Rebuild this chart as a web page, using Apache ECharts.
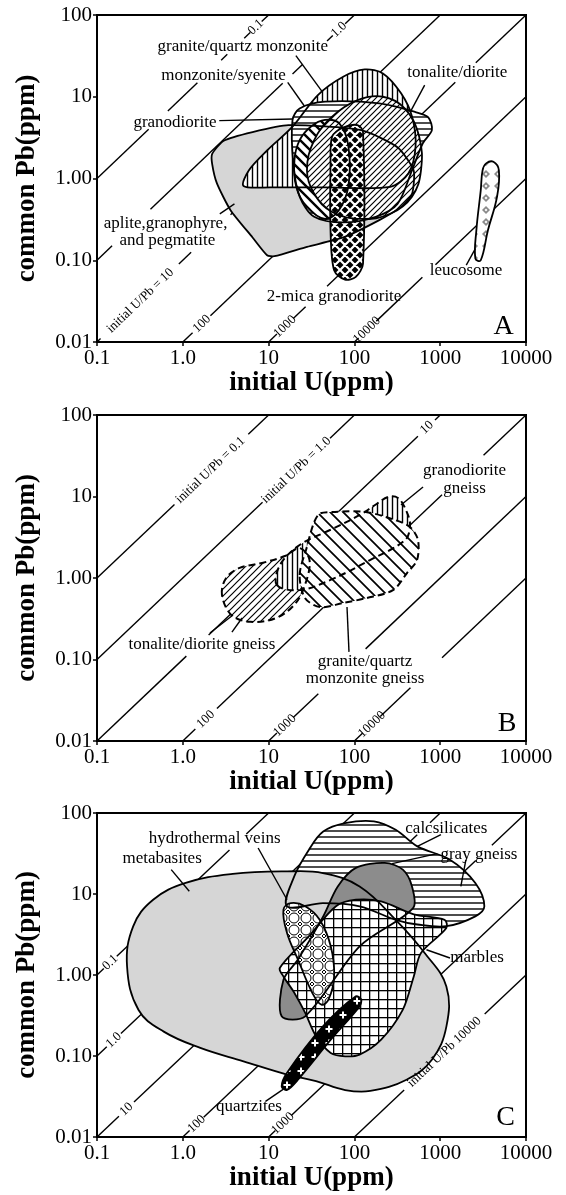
<!DOCTYPE html>
<html><head><meta charset="utf-8">
<script src="https://cdn.jsdelivr.net/npm/echarts@6/dist/echarts.min.js"></script>
<style>html,body{margin:0;padding:0;background:#fff}#c{width:566px;height:1195px}</style>
</head><body><div id="c"></div>
<script>
// ---------- tick labels ----------
const xTickLabels = ['0.1','1.0','10','100','1000','10000'];
const yTickLabels = ['0.01','0.10','1.00','10','100'];

// ---------- Panel A regions [initial U, common Pb] ----------
const aAplite = [[2.2,2.0],[3.0,2.9],[6.5,3.7],[17,4.5],[120,3.9],[320,2.4],[490,1.26],[470,0.65],[350,0.45],[195,0.31],[74,0.19],[28,0.146],[11.7,0.112],[9.6,0.115],[6.5,0.19],[3.6,0.41],[2.5,0.87],[2.2,1.5]];
const aGranite = [[5.1,0.81],[5.9,1.26],[9.6,2.2],[19,4.3],[37.5,10.5],[74,17.6],[132,21.6],[215,19.3],[350,11],[470,5.7],[516,2.44],[425,1.15],[262,0.79],[45,0.78],[10.6,0.78]];
const aMonzonite = [[20,1.68],[23,2.94],[31,4.3],[45.5,5.2],[67,4.7],[85,2.5],[85,0.8],[65,0.4],[45.5,0.32],[28,0.45],[21,0.79]];
const aGranodiorite = [[19,5.2],[23,7.2],[45.5,8.7],[195,8.3],[516,6.5],[726,5.6],[800,3.9],[627,2.7],[469,1.26],[318,0.49],[177,0.34],[74,0.29],[34,0.34],[23,0.6],[19.4,1.53]];
const aTonalite = [[28,1.26],[34,2.94],[55,5.7],[109,9.1],[215,10],[386,7.2],[569,3.24],[597,1.26],[469,0.6],[262,0.37],[120,0.32],[55,0.39],[34,0.65]];
const aTwoMica = [[55,3.24],[74,4.2],[109,4.5],[126,3.7],[126,0.091],[104,0.0625],[77.6,0.058],[58,0.0755],[52.7,0.233],[52.7,1.53]];
const aLeucosome = [[3435,1.53],[4170,1.6],[4830,1.26],[4600,0.60],[3600,0.233],[2970,0.1],[2570,0.105],[2640,0.233],[2970,0.72],[3120,1.26]];

// ---------- Panel B regions ----------
const bTonalite = [[2.86,0.62],[3.2,1.0],[4.6,1.33],[8.4,1.53],[15.5,1.86],[23,2.33],[30,1.66],[26.5,0.82],[20,0.47],[12,0.32],[6.1,0.29],[3.7,0.35]];
const bGranodiorite = [[12.5,0.82],[13.6,1.45],[23,2.54],[52,3.88],[116,5.93],[174,7.87],[246,9.86],[322,9.6],[399,6.82],[445,4.47],[389,2.92],[152,1.66],[52,0.94],[23,0.71]];
const bGranite = [[23,1.09],[27.3,2.21],[37.7,5.93],[59.4,6.46],[136,6.46],[297,5.15],[445,4.23],[551,2.92],[537,1.66],[410,1.15],[282,0.71],[140,0.569],[73.6,0.493],[39.8,0.44],[26.5,0.569]];

// ---------- Panel C regions ----------
const cCalcsilicates = [[16.4,7.05],[19.9,16.5],[29.4,35],[43.3,59],[77.6,75],[169,79],[303,62],[542,38.7],[1300,26.5],[2565,13.7],[3270,7.05],[2565,5.3],[1180,4.0],[542,4.2],[303,4.8],[115,7.05],[43,7.7]];
const cMetabasites = [[0.224,1.28],[0.264,3.99],[0.451,8.5],[1.08,13.7],[3.82,17.7],[16.4,19],[43,18.1],[115,12.4],[303,4.8],[659,1.87],[1180,0.72],[1180,0.23],[800,0.09],[405,0.051],[153,0.037],[78,0.038],[35.7,0.049],[16.4,0.059],[5.1,0.086],[1.6,0.126],[0.6,0.2],[0.305,0.37]];
const cGrayGneiss = [[14.2,0.309],[14.9,0.875],[22,1.55],[43.3,5.3],[64,12.4],[104,21],[226,24.2],[367,20],[469,12.4],[483,6.7],[115,2.26],[26.7,0.309]];
const cMarbles = [[13.5,1.22],[29.4,3.0],[61,7.05],[104,8.5],[205,8.1],[492,5.6],[1125,4.8],[1180,3.8],[597,1.87],[492,0.96],[367,0.373],[205,0.159],[115,0.104],[78,0.099],[53,0.109],[35.7,0.175],[26.7,0.34],[20,0.60],[14.9,0.96]];
const cHydro = [[14.9,6.4],[18.1,7.7],[26.7,7.05],[39.4,4.8],[53,2.26],[58,0.96],[50,0.5],[41.3,0.43],[32.4,0.6],[22,1.55],[16.4,3.3]];
const cQuartzites = [[14.2,0.042],[16.4,0.062],[43,0.232],[104,0.546],[120,0.5],[115,0.41],[53,0.159],[22,0.051],[16.4,0.038]];

// ---------- initial U/Pb isolines (visible pieces) ----------
const isoA = [
 [[0.1,1],[0.4,4]],[[0.67,6.7],[1.48,14.8]],[[2.8,28],[3.3,33]],[[5.2,52],[6.1,61]],[[8.3,83],[10,100]],
 [[0.1,0.1],[0.15,0.15]],[[0.42,0.42],[14.6,14.6]],[[19,19],[25,25]],[[48,48],[56,56]],[[78,78],[100,100]],
 [[0.1,0.01],[0.11,0.011]],[[0.9,0.09],[1.25,0.125]],[[3.6,0.36],[1000,100]],
 [[1,0.01],[1.3,0.013]],[[2.1,0.021],[1500,15]],[[2600,26],[10000,100]],
 [[10,0.01],[12.5,0.0125]],[[19.5,0.0195],[27,0.027]],[[48,0.048],[10000,10]],
 [[100,0.01],[112,0.0112]],[[180,0.018],[620,0.062]],[[880,0.088],[10000,1]]
];
const isoB = [
 [[0.1,1],[0.8,8]],[[5.8,58],[10,100]],
 [[0.1,0.1],[8.5,8.5]],[[52,52],[100,100]],
 [[0.1,0.01],[1.1,0.11]],[[2.0,0.2],[550,55]],[[870,87],[1000,100]],
 [[1,0.01],[1.4,0.014]],[[2.5,0.025],[1050,10.5]],[[3200,32],[10000,100]],
 [[10,0.01],[12.5,0.0125]],[[19.5,0.0195],[38,0.038]],[[135,0.135],[10000,10]],
 [[100,0.01],[125,0.0125]],[[200,0.02],[450,0.045]],[[1050,0.105],[10000,1]]
];
const isoC = [
 [[0.1,1],[0.12,1.2]],[[0.17,1.7],[3.5,35]],[[5.5,55],[10,100]],
 [[0.1,0.1],[0.13,0.13]],[[0.19,0.19],[100,100]],
 [[0.1,0.01],[0.18,0.018]],[[0.27,0.027],[540,54]],[[760,76],[1000,100]],
 [[1,0.01],[1.2,0.012]],[[1.75,0.0175],[2600,26]],[[4000,40],[10000,100]],
 [[10,0.01],[12,0.012]],[[18.5,0.0185],[10000,10]],
 [[100,0.01],[380,0.038]],[[3300,0.33],[10000,1]]
];

// ---------- leader lines ----------
const leadA = [
 [[20.8,31.8],[42.7,11.3]],[[16.7,15.0],[26,7.76]],[[2.66,5.1],[19.1,5.35]],
 [[659,13.9],[447,6.5]],[[2.7,0.37],[4.0,0.49]],[[2013,0.087],[2570,0.139]]
];
const leadB = [
 [[631,13.1],[349,7.87]],[[2.07,0.211],[3.85,0.352]],[[3.74,0.217],[4.9,0.323]],[[82,0.44],[86.5,0.124]]
];
const leadC = [
 [[7.55,37],[16.4,8.5]],[[0.733,20],[1.19,10.8]],[[1020,54],[542,38.7]],
 [[925,31.5],[275,23.7]],[[1995,26.5],[1740,12.4]],[[1300,1.62],[692,2.05]],[[9.2,0.0275],[14.9,0.039]]
];

// ---------- text labels ----------
const textA = [
 {t:'granite/quartz monzonite', at:[5.0,41]},
 {t:'monzonite/syenite', at:[2.98,18.1]},
 {t:'granodiorite', at:[0.81,4.9]},
 {t:'tonalite/diorite', at:[1580,20]},
 {t:'aplite,granophyre,', at:[0.63,0.28]},
 {t:'and pegmatite', at:[0.66,0.172]},
 {t:'leucosome', at:[2000,0.074]},
 {t:'2-mica granodiorite', at:[58,0.036]}
];
const isoTextA = [
 {t:'initial U/Pb = 10', at:[0.32,0.032]},{t:'100', at:[1.67,0.0167]},{t:'1000', at:[15.5,0.0155]},
 {t:'10000', at:[140,0.014]},{t:'0.1', at:[7.1,71]},{t:'1.0', at:[66,66]}
];
const textB = [
 {t:'granodiorite', at:[1920,21.1]},{t:'gneiss', at:[1920,12.7]},
 {t:'tonalite/diorite gneiss', at:[1.67,0.151]},
 {t:'granite/quartz', at:[133,0.0933]},{t:'monzonite gneiss', at:[133,0.0577]}
];
const isoTextB = [
 {t:'initial U/Pb = 0.1', at:[2.1,21]},{t:'initial U/Pb = 1.0', at:[21,21]},{t:'10', at:[700,70]},
 {t:'100', at:[1.85,0.0185]},{t:'1000', at:[15.5,0.0155]},{t:'10000', at:[160,0.016]}
];
const textC = [
 {t:'hydrothermal veins', at:[2.35,49]},{t:'metabasites', at:[0.574,27.8]},
 {t:'calcsilicates', at:[1180,65]},{t:'gray gneiss', at:[2825,30.6]},
 {t:'marbles', at:[2690,1.62]},{t:'quartzites', at:[5.9,0.0239]}
];
const isoTextC = [
 {t:'0.1', at:[0.143,1.43]},{t:'1.0', at:[0.157,0.157]},{t:'10', at:[0.22,0.022]},
 {t:'100', at:[1.45,0.0145]},{t:'1000', at:[14.7,0.0147]},{t:'initial U/Pb 10000', at:[1120,0.112]}
];
const panelLetters = [{t:'A', at:[5500,0.0155]},{t:'B', at:[6000,0.0165]},{t:'C', at:[5800,0.0172]}];

// ---------- fills (patterns) ----------
function pat(w,h,draw){const c=document.createElement('canvas');c.width=w;c.height=h;const g=c.getContext('2d');draw(g,w,h);return {image:c,repeat:'repeat'};}
function diag(n,lw,dir,bg,fg){return pat(n,n,(g)=>{g.fillStyle=bg;g.fillRect(0,0,n,n);g.strokeStyle=fg;g.lineWidth=lw;g.beginPath();
 if(dir>0){g.moveTo(-1,n+1);g.lineTo(n+1,-1);g.moveTo(-1,1);g.lineTo(1,-1);g.moveTo(n-1,n+1);g.lineTo(n+1,n-1);}
 else{g.moveTo(-1,-1);g.lineTo(n+1,n+1);g.moveTo(n-1,-1);g.lineTo(n+1,1);g.moveTo(-1,n-1);g.lineTo(1,n+1);}
 g.stroke();});}
const FILLS = {
 gray:'#d6d6d6',
 dark:'#8c8c8c',
 vert:pat(5,5,(g)=>{g.fillStyle='#fff';g.fillRect(0,0,5,5);g.strokeStyle='#000';g.lineWidth=1.4;g.beginPath();g.moveTo(2.5,0);g.lineTo(2.5,5);g.stroke();}),
 horiz:pat(6,6,(g)=>{g.fillStyle='#fff';g.fillRect(0,0,6,6);g.strokeStyle='#000';g.lineWidth=1.4;g.beginPath();g.moveTo(0,3);g.lineTo(6,3);g.stroke();}),
 diagR:diag(6,1.2,1,'#fff','#000'),
 diagLwide:diag(10,2.4,-1,'#fff','#000'),
 diagRb:diag(7,1.2,1,'#fff','#000'),
 diagLb:diag(13,1.7,-1,'#fff','#000'),
 grid:pat(9,9,(g)=>{g.fillStyle='#fff';g.fillRect(0,0,9,9);g.fillStyle='#000';g.fillRect(0,0,1.3,9);g.fillRect(0,0,9,1.3);}),
 mica:pat(10,10,(g)=>{g.fillStyle='#000';g.fillRect(0,0,10,10);g.strokeStyle='#fff';g.lineWidth=2.2;g.beginPath();
   g.moveTo(-1,11);g.lineTo(11,-1);g.moveTo(-1,1);g.lineTo(1,-1);g.moveTo(9,11);g.lineTo(11,9);
   g.moveTo(-1,-1);g.lineTo(11,11);g.moveTo(9,-1);g.lineTo(11,1);g.moveTo(-1,9);g.lineTo(1,11);g.stroke();}),
 leuco:pat(12,12,(g)=>{g.fillStyle='#fff';g.fillRect(0,0,12,12);g.fillStyle='#8a8a8a';g.beginPath();g.moveTo(6,2);g.lineTo(10,6);g.lineTo(6,10);g.lineTo(2,6);g.closePath();g.fill();
   g.fillStyle='#fff';g.beginPath();g.moveTo(6,4.5);g.lineTo(7.5,6);g.lineTo(6,7.5);g.lineTo(4.5,6);g.closePath();g.fill();}),
 hydro:pat(12,12,(g)=>{g.fillStyle='#fff';g.fillRect(0,0,12,12);g.strokeStyle='#000';g.lineWidth=1;g.beginPath();g.arc(6,6,5,0,Math.PI*2);g.stroke();
   g.beginPath();[[0,0],[12,0],[0,12],[12,12]].forEach(p=>{g.moveTo(p[0],p[1]-2);g.lineTo(p[0]+2,p[1]);g.lineTo(p[0],p[1]+2);g.lineTo(p[0]-2,p[1]);g.closePath();});g.stroke();}),
 quartz:pat(14,14,(g)=>{g.fillStyle='#000';g.fillRect(0,0,14,14);g.strokeStyle='#fff';g.lineWidth=2;g.beginPath();g.moveTo(7,3.5);g.lineTo(7,10.5);g.moveTo(3.5,7);g.lineTo(10.5,7);g.stroke();})
};

const shapesA = [
 {pts:aAplite, fill:'gray', smooth:0.2},
 {pts:aGranite, fill:'vert', smooth:0.3},
 {pts:aGranodiorite, fill:'horiz', smooth:0.3},
 {pts:aMonzonite, fill:'diagLwide', smooth:0.35},
 {pts:aTonalite, fill:'diagR', smooth:0.4},
 {pts:aTwoMica, fill:'mica', smooth:0.3},
 {pts:aLeucosome, fill:'leuco', smooth:0.4}
];
const shapesB = [
 {pts:bTonalite, fill:'diagRb', smooth:0.35, dash:true},
 {pts:bGranodiorite, fill:'vert', smooth:0.35, dash:true},
 {pts:bGranite, fill:'diagLb', smooth:0.3, dash:true}
];
const shapesC = [
 {pts:cCalcsilicates, fill:'horiz', smooth:0.35},
 {pts:cMetabasites, fill:'gray', smooth:0.4},
 {pts:cGrayGneiss, fill:'dark', smooth:0.3},
 {pts:cMarbles, fill:'grid', smooth:0.3},
 {pts:cHydro, fill:'hydro', smooth:0.4},
 {pts:cQuartzites, fill:'quartz', smooth:0.3}
];

const FONT = '"Liberation Serif", "DejaVu Serif", serif';

function segSeries(gi, segs, z, lw){
 return {type:'custom', xAxisIndex:gi, yAxisIndex:gi, z:z, silent:true, animation:false,
  data: segs.map(s=>[s[0][0],s[0][1],s[1][0],s[1][1]]),
  renderItem:(params,api)=>{const a=api.coord([api.value(0),api.value(1)]);const b=api.coord([api.value(2),api.value(3)]);
   return {type:'line', shape:{x1:a[0],y1:a[1],x2:b[0],y2:b[1]}, style:{stroke:'#000', lineWidth:lw}};}};
}
function polySeries(gi, shapes, z, outline){
 return {type:'custom', xAxisIndex:gi, yAxisIndex:gi, z:z, silent:true, animation:false,
  data: shapes.map((s,i)=>[s.pts[0][0],s.pts[0][1],i]),
  renderItem:(params,api)=>{const s=shapes[api.value(2)];const pts=s.pts.map(p=>api.coord(p));
   const style = outline ? {fill:'none', stroke:'#000', lineWidth:s.dash?2:1.8, lineDash:s.dash?[7,4]:null}
                         : {fill:FILLS[s.fill], stroke:null};
   return {type:'polygon', shape:{points:pts, smooth:s.smooth||0}, style:style};}};
}
function textSeries(gi, items, size, rotated, z){
 return {type:'custom', xAxisIndex:gi, yAxisIndex:gi, z:z, silent:true, animation:false,
  data: items.map((l,i)=>[l.at[0],l.at[1],i]),
  renderItem:(params,api)=>{const l=items[api.value(2)];const p=api.coord(l.at);let rot=0;
   if(rotated){const a=api.coord([1,1]);const b=api.coord([10,10]);rot=Math.atan2(a[1]-b[1],b[0]-a[0]);}
   return {type:'text', x:p[0], y:p[1], rotation:rot,
    style:{text:l.t, font:size+'px '+FONT, fill:'#000', align:'center', verticalAlign:'middle', textAlign:'center', textVerticalAlign:'middle'}};}};
}

const gridTops = [15,415,813];
const gridHeights = [327,326,324];
const grids = gridTops.map((t,i)=>({left:97, top:t, width:429, height:gridHeights[i], show:true, borderColor:'#000', borderWidth:2, backgroundColor:'transparent'}));
const xAxes = [0,1,2].map(i=>({type:'log', logBase:10, gridIndex:i, min:0.1, max:10000,
 name:'initial U(ppm)', nameLocation:'middle', nameGap:28,
 nameTextStyle:{fontFamily:FONT, fontWeight:'bold', fontSize:27, color:'#000'},
 axisLine:{show:true, lineStyle:{color:'#000', width:2}},
 axisTick:{show:true, length:4, lineStyle:{color:'#000', width:1.5}},
 minorTick:{show:false}, splitLine:{show:false},
 axisLabel:{fontFamily:FONT, fontSize:21, color:'#000', margin:6,
  formatter:(v)=>xTickLabels[Math.round(Math.log10(v))+1]}}));
const yAxes = [0,1,2].map(i=>({type:'log', logBase:10, gridIndex:i, min:0.01, max:100,
 name:'common Pb(ppm)', nameLocation:'middle', nameGap:56, nameRotate:90,
 nameTextStyle:{fontFamily:FONT, fontWeight:'bold', fontSize:27, color:'#000'},
 axisLine:{show:true, lineStyle:{color:'#000', width:2}},
 axisTick:{show:true, length:4, lineStyle:{color:'#000', width:1.5}},
 minorTick:{show:false}, splitLine:{show:false},
 axisLabel:{fontFamily:FONT, fontSize:21, color:'#000', margin:5,
  formatter:(v)=>yTickLabels[Math.round(Math.log10(v))+2]}}));

const series = [
 segSeries(0, isoA, 1, 1.4), polySeries(0, shapesA, 2, false), polySeries(0, shapesA, 3, true),
 segSeries(0, leadA, 4, 1.4), textSeries(0, textA, 17, false, 5), textSeries(0, isoTextA, 13, true, 5),
 segSeries(1, isoB, 1, 1.4), polySeries(1, shapesB, 2, false), polySeries(1, shapesB, 3, true),
 segSeries(1, leadB, 4, 1.4), textSeries(1, textB, 17, false, 5), textSeries(1, isoTextB, 13, true, 5),
 segSeries(2, isoC, 1, 1.4), polySeries(2, shapesC, 2, false), polySeries(2, shapesC, 3, true),
 segSeries(2, leadC, 4, 1.4), textSeries(2, textC, 17, false, 5), textSeries(2, isoTextC, 13, true, 5)
];
panelLetters.forEach((p,i)=>series.push(textSeries(i,[p],28,false,6)));

const chart = echarts.init(document.getElementById('c'), null, {renderer:'canvas'});
chart.setOption({animation:false, backgroundColor:'#fff', grid:grids, xAxis:xAxes, yAxis:yAxes, series:series});
</script>
</body></html>
